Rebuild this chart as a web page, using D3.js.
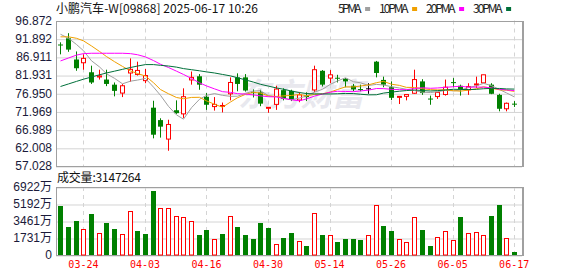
<!DOCTYPE html>
<html>
<head>
<meta charset="utf-8">
<script src="https://cdn.jsdelivr.net/npm/d3@7/dist/d3.min.js"></script>
<style>
  body { margin: 0; background: #fff; }
  svg { display: block; font-family: "Noto Sans CJK SC", sans-serif; }
</style>
</head>
<body>
<div id="chart"></div>
<script>
// trading days shown on the chart
const dates = ['03-19','03-20','03-21','03-24','03-25','03-26','03-27','03-28','03-31',
  '04-01','04-02','04-03','04-07','04-08','04-09','04-10','04-11','04-14','04-15','04-16',
  '04-17','04-22','04-23','04-24','04-25','04-28','04-29','04-30','05-02','05-06','05-07',
  '05-08','05-09','05-12','05-13','05-14','05-15','05-16','05-19','05-20','05-21','05-22',
  '05-23','05-26','05-27','05-28','05-29','05-30','06-02','06-03','06-04','06-05','06-06',
  '06-09','06-10','06-11','06-12','06-13','06-16','06-17'];

const open = [90.3, 92.0, 86.2, 85.3, 82.7, 81.4, 80.7, 79.3, 77.0, 82.5,
  82.1, 80.4, 73.0, 69.6, 64.4, 72.3, 71.3, 80.6, 81.6, 76.0,
  73.3, 73.4, 76.8, 81.3, 81.3, 77.3, 77.2, 73.0, 73.9, 77.8,
  77.6, 75.1, 76.3, 77.85, 83.1, 81.1, 81.2, 80.9, 79.0, 78.1,
  78.3, 85.6, 80.6, 78.6, 75.9, 76.1, 76.95, 80.2, 75.5, 76.05,
  76.6, 80.0, 79.0, 77.9, 79.4, 79.8, 79.3, 76.5, 72.7, 74.1];
const close = [90.1, 88.9, 83.8, 86.5, 79.9, 81.7, 79.5, 77.6, 79.0, 83.5,
  83.2, 81.8, 65.6, 67.8, 68.4, 71.5, 76.0, 81.3, 79.3, 73.8,
  73.9, 73.6, 79.9, 79.5, 77.7, 77.0, 74.1, 73.1, 78.1, 75.4,
  75.1, 76.5, 75.9, 83.4, 79.3, 82.0, 81.0, 80.2, 78.0, 77.9,
  78.3, 82.5, 79.3, 75.7, 76.1, 76.6, 80.7, 77.0, 75.3, 77.2,
  78.6, 79.9, 78.1, 78.8, 79.5, 82.0, 76.8, 72.7, 74.2, 74.0];
const high = [90.9, 93.4, 88.4, 87.6, 84.5, 83.4, 83.4, 79.9, 79.5, 86.5,
  85.6, 83.6, 74.9, 70.1, 69.7, 75.0, 78.3, 82.9, 82.2, 77.0,
  75.9, 74.4, 81.3, 82.4, 82.2, 78.0, 77.9, 73.2, 79.0, 78.3,
  77.9, 77.2, 77.2, 84.5, 83.3, 83.3, 82.0, 81.1, 79.5, 79.3,
  79.7, 85.8, 81.5, 80.2, 76.2, 76.7, 83.4, 80.8, 76.3, 77.3,
  80.7, 81.1, 79.3, 79.7, 81.5, 82.0, 79.7, 76.8, 74.4, 74.8];
const low = [87.6, 88.3, 83.1, 83.4, 79.5, 80.7, 78.9, 76.1, 75.9, 80.1,
  81.8, 79.7, 64.6, 64.8, 61.2, 71.3, 70.2, 79.3, 77.9, 72.4,
  72.2, 71.7, 75.0, 77.5, 77.4, 75.8, 73.4, 71.6, 72.4, 75.0,
  74.8, 74.5, 74.8, 77.2, 78.8, 79.7, 79.9, 78.6, 77.5, 77.5,
  76.8, 81.3, 78.6, 75.1, 74.0, 75.0, 76.8, 76.5, 73.8, 75.4,
  76.3, 78.6, 76.3, 76.5, 78.4, 79.8, 76.7, 72.0, 72.0, 73.2];

// volume in 万 shares
const volume = [4990, 2850, 3460, 2650, 4170, 2200, 3260, 2650, 2100, 4480,
  2440, 2140, 6515, 4785, 4785, 3940, 3840, 3430, 2040, 2545,
  1630, 2140, 3970, 2850, 2040, 1630, 3260, 2780, 1090, 1730,
  2220, 1390, 916, 4240, 2040, 2040, 1320, 1630, 1630, 1530,
  2040, 5060, 2950, 2440, 1630, 1320, 3840, 2545, 916, 1830,
  2410, 1530, 3870, 2200, 2310, 2040, 3970, 5090, 1730, 314.7];

// MA values before the window has enough visible closes
const ma5Head = [93.1, 92.0, 90.3, 88.6];
const ma10Head = [92.4, 92.4, 92.0, 91.3, 89.9, 88.4, 87.0, 85.6, 84.3];
const ma20Head = [85.8, 86.6, 87.4, 87.8, 87.9, 87.9, 87.9, 87.9, 87.9, 87.8,
  87.5, 86.9, 85.9, 84.9, 84.0, 83.0, 82.1, 81.0, 79.8];
const ma30Head = [78.8, 79.5, 80.2, 80.8, 81.4, 82.0, 82.5, 83.0, 83.5, 84.0,
  84.4, 84.8, 84.8, 84.6, 84.4, 84.1, 83.7, 83.4, 83.1, 82.8,
  82.5, 82.1, 81.7, 81.2, 80.6, 80.0, 79.4, 78.9, 78.4];

const priceTicks = ['96.872', '91.892', '86.911', '81.931', '76.950', '71.969', '66.989', '62.008', '57.028'];
const volumeTicks = [6922, 5192, 3461, 1731, 0];
const dateTicks = ['03-24', '04-03', '04-16', '04-30', '05-14', '05-26', '06-05', '06-17'];

const maNames = ['5PMA', '10PMA', '20PMA', '30PMA'];
const maColors = ['#a0a0a0', '#f0a000', '#ff00ff', '#00703a'];

const title = '小鹏汽车-W[09868] 2025-06-17 10:26';
const volumeLabel = '成交量:3147264';

// layout
const width = 578, height = 276;
const left = 56, right = 522;
const priceTop = 20.5, priceBottom = 166;
const volTop = 187, volBottom = 255;
const UP = '#ff0000', DOWN = '#008000', FLAT = '#000000';
const gridColor = '#d4d4d4', frameColor = '#a0a0a0';

const svg = d3.select('#chart').append('svg')
  .attr('width', width)
  .attr('height', height);

const x = d3.scaleBand().domain(dates).range([56.5, 518]);
const cx = i => Math.round(x(dates[i]) + x.bandwidth() / 2);

const y = d3.scaleLinear()
  .domain([+priceTicks[priceTicks.length - 1], +priceTicks[0]])
  .range([priceBottom, priceTop]);

const yv = d3.scaleLinear()
  .domain([0, volumeTicks[0]])
  .range([volBottom, volTop]);

// watermark
svg.append('text')
  .attr('x', 238).attr('y', 106)
  .attr('font-size', 32)
  .attr('font-weight', 'bold')
  .attr('font-style', 'italic')
  .attr('fill', '#e8e8ee')
  .attr('textLength', 126)
  .text('东方财富');

// horizontal grids + labels
svg.append('g')
  .attr('transform', `translate(${left},0)`)
  .call(d3.axisLeft(y).tickValues(priceTicks.map(Number)).tickSize(-(right - left)).tickPadding(4)
    .tickFormat((d, i) => priceTicks[i]))
  .call(g => g.select('.domain').remove())
  .call(g => g.selectAll('line').attr('stroke', gridColor).attr('transform', 'translate(0,0.5)'))
  .call(g => g.selectAll('text').attr('font-family', '"Liberation Sans", Arial, sans-serif')
    .attr('font-size', 12).attr('fill', '#1a1a3a'));

svg.append('g')
  .attr('transform', `translate(${left},0)`)
  .call(d3.axisLeft(yv).tickValues(volumeTicks).tickSize(-(right - left)).tickPadding(4)
    .tickFormat(d => d === 0 ? '0' : d + '万'))
  .call(g => g.select('.domain').remove())
  .call(g => g.selectAll('line').attr('stroke', gridColor).attr('transform', 'translate(0,0.5)'))
  .call(g => g.selectAll('text').attr('font-family', '"Liberation Sans", Arial, "Noto Sans CJK SC", sans-serif')
    .attr('font-size', 12).attr('fill', '#1a1a3a'));

// vertical dashed grids
const tickIdx = dateTicks.map(d => dates.indexOf(d));
[[priceTop, priceBottom], [volTop, volBottom]].forEach(([t, b]) => {
  svg.append('g').selectAll('line')
    .data(tickIdx)
    .join('line')
    .attr('x1', i => cx(i) + 0.5).attr('x2', i => cx(i) + 0.5)
    .attr('y1', t).attr('y2', b)
    .attr('stroke', gridColor)
    .attr('stroke-dasharray', '4,4');
});

// frames
[[priceTop, priceBottom], [volTop, volBottom]].forEach(([t, b]) => {
  svg.append('rect')
    .attr('x', left + 0.5).attr('y', Math.round(t) + 0.5)
    .attr('width', right - left).attr('height', Math.round(b) - Math.round(t))
    .attr('fill', 'none')
    .attr('stroke', frameColor);
  svg.append('line')
    .attr('x1', right + 1.5).attr('x2', right + 1.5)
    .attr('y1', Math.round(t)).attr('y2', Math.round(b) + 1)
    .attr('stroke', frameColor);
});

// date labels
svg.append('g')
  .attr('transform', `translate(0,${volBottom})`)
  .call(d3.axisBottom(x).tickValues(dateTicks).tickSize(0).tickPadding(6))
  .call(g => g.select('.domain').remove())
  .call(g => g.selectAll('text').attr('font-family', '"DejaVu Sans Mono", monospace')
    .attr('font-size', 10).attr('fill', '#ff0000'));

// candles
const candles = svg.append('g').selectAll('g')
  .data(dates.map((d, i) => i))
  .join('g');

const candleColor = i => close[i] > open[i] ? UP : close[i] < open[i] ? DOWN : FLAT;

candles.append('line')
  .attr('x1', i => cx(i) + 0.5).attr('x2', i => cx(i) + 0.5)
  .attr('y1', i => y(high[i])).attr('y2', i => y(low[i]))
  .attr('stroke', candleColor);

candles.append('rect')
  .attr('x', i => close[i] > open[i] ? cx(i) - 1.5 : cx(i) - 2)
  .attr('y', i => y(Math.max(open[i], close[i])))
  .attr('width', i => close[i] > open[i] ? 4 : 5)
  .attr('height', i => Math.max(1, y(Math.min(open[i], close[i])) - y(Math.max(open[i], close[i]))))
  .attr('fill', i => close[i] > open[i] ? '#fff' : candleColor(i))
  .attr('stroke', i => close[i] > open[i] ? UP : 'none');

// moving averages
const closes = close;
const movingAverage = (head, n) => closes.map((c, i) =>
  i < n - 1 ? head[i] : d3.mean(closes.slice(i - n + 1, i + 1)));
const maSeries = [movingAverage(ma5Head, 5), movingAverage(ma10Head, 10),
  movingAverage(ma20Head, 20), movingAverage(ma30Head, 30)];

const line = d3.line()
  .x((v, i) => cx(i) + 0.5)
  .y(v => y(v));

svg.append('g').selectAll('path')
  .data(maSeries)
  .join('path')
  .attr('d', line)
  .attr('fill', 'none')
  .attr('stroke', (d, i) => maColors[i])
  .attr('stroke-width', 1);

// volume bars
const volUp = i => i === 0 ? close[i] >= open[i] : close[i] >= close[i - 1];
svg.append('g').selectAll('rect')
  .data(volume.map((v, i) => i))
  .join('rect')
  .attr('x', i => volUp(i) ? cx(i) - 1.5 : cx(i) - 2)
  .attr('y', i => Math.round(yv(volume[i])) + (volUp(i) ? 0.5 : 0))
  .attr('width', i => volUp(i) ? 4 : 5)
  .attr('height', i => volBottom - Math.round(yv(volume[i])) - (volUp(i) ? 0.5 : 0))
  .attr('fill', i => volUp(i) ? '#fff' : DOWN)
  .attr('stroke', i => volUp(i) ? UP : 'none');

// title
svg.append('text')
  .attr('x', left).attr('y', 12.5)
  .attr('font-size', 12)
  .attr('fill', '#111')
  .attr('textLength', 202)
  .text(title);

// legend
let lx = 338;
maNames.forEach((name, i) => {
  const tw = name.length * 5.9;
  svg.append('text')
    .attr('x', lx).attr('y', 12.5)
    .attr('font-size', 12)
    .attr('fill', '#222')
    .attr('textLength', tw)
    .text(name);
  lx += tw + 3.5;
  svg.append('rect')
    .attr('x', lx).attr('y', 7)
    .attr('width', 5).attr('height', 4)
    .attr('fill', maColors[i]);
  lx += 5 + 9;
});

// volume caption
svg.append('text')
  .attr('x', 57).attr('y', 181.5)
  .attr('font-size', 12)
  .attr('fill', '#111')
  .attr('textLength', 84)
  .text(volumeLabel);
</script>
</body>
</html>
